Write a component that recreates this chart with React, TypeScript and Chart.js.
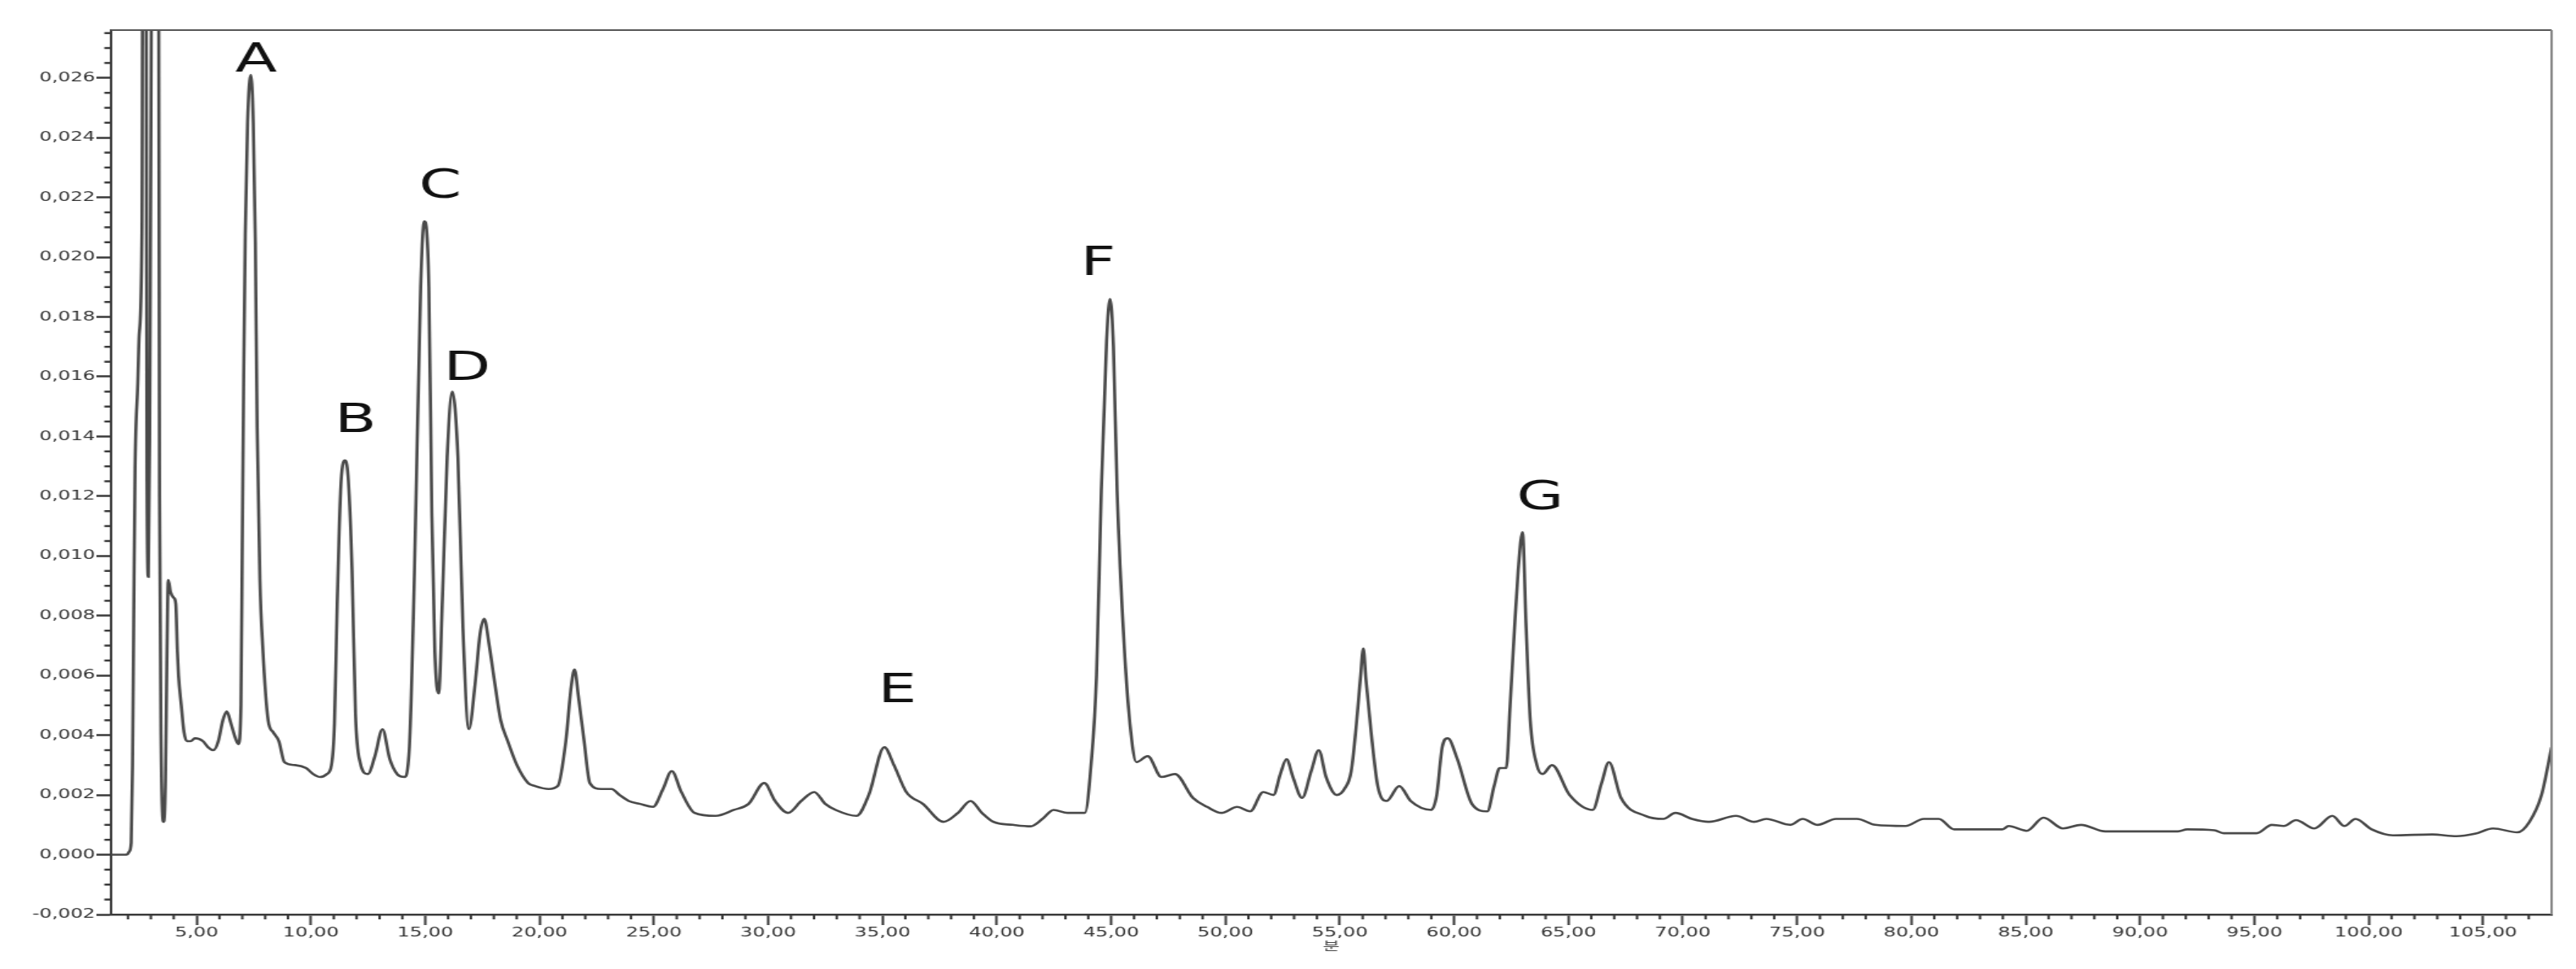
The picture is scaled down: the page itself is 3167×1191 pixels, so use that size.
import { useEffect, useRef } from "react";
import { Chart, registerables } from "chart.js";

Chart.register(...registerables);

// ---- data (retention time in minutes, absorbance) ----
const timeMin: number[] = [
  1.26, 1.95, 2.05, 2.14, 2.2, 2.25, 2.31, 2.43, 2.49, 2.61,
  2.68, 2.76, 2.83, 2.89, 2.95, 3.03, 3.1, 3.3, 3.38, 3.45,
  3.56, 3.64, 3.7, 3.76, 3.86, 4.0, 4.09, 4.16, 4.21, 4.33,
  4.45, 4.57, 4.75, 4.93, 5.28, 5.5, 5.74, 5.95, 6.15, 6.32,
  6.5, 6.7, 6.83, 6.94, 7.0, 7.06, 7.13, 7.23, 7.37, 7.48,
  7.57, 7.65, 7.77, 7.89, 8.13, 8.35, 8.6, 8.84, 9.31, 9.79,
  10.1, 10.4, 10.7, 10.9, 11.03, 11.15, 11.32, 11.5, 11.64, 11.8,
  11.95, 12.15, 12.49, 12.8, 13.13, 13.45, 13.77, 14.08, 14.3, 14.53,
  14.8, 14.96, 15.16, 15.29, 15.42, 15.59, 15.75, 15.96, 16.18, 16.43,
  16.65, 16.91, 17.18, 17.4, 17.58, 17.8, 18.05, 18.3, 18.61, 19.01,
  19.5, 19.8, 20.4, 20.8, 21.15, 21.38, 21.53, 21.7, 21.95, 22.2,
  22.7, 23.15, 23.5, 23.9, 24.4, 24.96, 25.4, 25.78, 26.2, 26.78,
  27.7, 28.5, 29.14, 29.83, 30.3, 30.87, 31.45, 32.01, 32.5, 32.95,
  33.86, 34.4, 35.08, 35.5, 36.04, 36.77, 37.67, 38.3, 38.85, 39.35,
  39.85, 40.7, 41.48, 42.0, 42.48, 43.1, 43.85, 44.12, 44.36, 44.57,
  44.8, 44.95, 45.1, 45.26, 45.57, 45.86, 46.11, 46.6, 47.2, 47.79,
  48.58, 49.2, 49.83, 50.51, 51.08, 51.65, 52.1, 52.4, 52.67, 52.95,
  53.35, 53.75, 54.08, 54.4, 54.87, 55.2, 55.5, 55.73, 55.9, 56.03,
  56.14, 56.37, 56.66, 57.05, 57.6, 58.1, 59.0, 59.24, 59.48, 59.72,
  60.14, 60.78, 61.45, 61.75, 61.99, 62.28, 62.45, 62.62, 62.8, 62.99,
  63.15, 63.33, 63.62, 63.87, 64.28, 65.05, 66.06, 66.45, 66.77, 67.3,
  68.37, 69.15, 69.68, 70.4, 71.14, 72.33, 73.12, 73.65, 74.71, 75.24,
  75.9, 76.7, 77.62, 78.42, 79.74, 80.54, 81.2, 81.86, 83.98, 84.25,
  85.04, 85.78, 86.63, 87.42, 88.48, 91.66, 92.06, 93.25, 93.65, 95.1,
  95.76, 96.29, 96.82, 97.62, 98.41, 98.94, 99.42, 100.13, 101.06, 102.78,
  103.84, 104.64, 105.44, 106.5, 107.03, 107.56, 108.0,
];

const absorbance: number[] = [
  0, 0, 0.0001, 0.0004, 0.003, 0.0078, 0.0129, 0.0158, 0.0174, 0.0209,
  0.045, 0.045, 0.0125, 0.0093, 0.014, 0.03, 0.045, 0.045, 0.012, 0.0035,
  0.0011, 0.0025, 0.0065, 0.0092, 0.0088, 0.0086, 0.0084, 0.0068, 0.006, 0.005,
  0.0041, 0.0038, 0.0038, 0.0039, 0.0038, 0.0036, 0.0035, 0.0038, 0.0045, 0.0048,
  0.0044, 0.0039, 0.0037, 0.005, 0.0105, 0.016, 0.0208, 0.0245, 0.0261, 0.0245,
  0.0205, 0.0143, 0.0092, 0.007, 0.0045, 0.0041, 0.0038, 0.0031, 0.003, 0.0029,
  0.0027, 0.0026, 0.0027, 0.003, 0.0044, 0.0084, 0.0125, 0.0132, 0.0125, 0.0095,
  0.0047, 0.0031, 0.0027, 0.0033, 0.0042, 0.0032, 0.0027, 0.0026, 0.0035, 0.0095,
  0.019, 0.0212, 0.019, 0.0114, 0.0068, 0.0054, 0.0085, 0.0133, 0.0155, 0.0133,
  0.0076, 0.0042, 0.0057, 0.0074, 0.0079, 0.007, 0.0057, 0.0045, 0.0038, 0.003,
  0.0024, 0.0023, 0.0022, 0.0023, 0.0038, 0.0056, 0.0062, 0.0053, 0.0038, 0.0024,
  0.0022, 0.0022, 0.002, 0.0018, 0.0017, 0.0016, 0.0022, 0.0028, 0.0021, 0.0014,
  0.0013, 0.0015, 0.0017, 0.0024, 0.0018, 0.0014, 0.0018, 0.0021, 0.0017, 0.0015,
  0.0013, 0.002, 0.0036, 0.003, 0.0021, 0.0017, 0.0011, 0.0014, 0.0018, 0.0014,
  0.0011, 0.001, 0.00095, 0.0012, 0.0015, 0.0014, 0.0014, 0.003, 0.006, 0.0122,
  0.0172, 0.0186, 0.017, 0.0122, 0.007, 0.0041, 0.0031, 0.0033, 0.0026, 0.0027,
  0.0019, 0.0016, 0.0014, 0.0016, 0.00145, 0.0021, 0.002, 0.0027, 0.0032, 0.0026,
  0.0019, 0.0028, 0.0035, 0.0026, 0.002, 0.0022, 0.0028, 0.0044, 0.0059, 0.0069,
  0.0059, 0.0041, 0.0023, 0.0018, 0.0023, 0.0018, 0.0015, 0.002, 0.0036, 0.0039,
  0.0032, 0.0017, 0.00145, 0.0023, 0.0029, 0.0029, 0.005, 0.0073, 0.0095, 0.0108,
  0.0076, 0.0045, 0.003, 0.0027, 0.003, 0.002, 0.0015, 0.0024, 0.0031, 0.0019,
  0.0013, 0.0012, 0.0014, 0.0012, 0.0011, 0.0013, 0.0011, 0.0012, 0.001, 0.0012,
  0.001, 0.0012, 0.0012, 0.001, 0.00096, 0.0012, 0.0012, 0.00085, 0.00085, 0.00096,
  0.0008, 0.00124, 0.00088, 0.001, 0.00078, 0.00078, 0.00085, 0.00082, 0.00072, 0.00072,
  0.001, 0.00096, 0.00116, 0.00088, 0.0013, 0.00096, 0.0012, 0.00085, 0.00065, 0.00068,
  0.00062, 0.0007, 0.00088, 0.00075, 0.0011, 0.002, 0.0036,
];

const xTickValues: number[] = [5, 10, 15, 20, 25, 30, 35, 40, 45, 50, 55, 60, 65, 70, 75, 80, 85, 90, 95, 100, 105];
const yTickValues: number[] = [
  -0.002, 0, 0.002, 0.004, 0.006, 0.008, 0.01, 0.012, 0.014, 0.016, 0.018, 0.02, 0.022, 0.024, 0.026,
];

const peakLabels: string[] = ["A", "B", "C", "D", "E", "F", "G"];
const peakLabelTimes: number[] = [7.6, 11.95, 15.65, 16.83, 35.65, 44.43, 63.76];
const peakLabelValues: number[] = [0.0262, 0.01415, 0.022, 0.0159, 0.0051, 0.0194, 0.01156];

const xAxisTitle = "분";

const X_MIN = 1.26;
const X_MAX = 108;
const Y_MIN = -0.002;
const Y_MAX = 0.0276;

const FULL_W = 3167;
const FULL_H = 1191;
const STRETCH = 1.5;
const CANVAS_W = Math.round(FULL_W / STRETCH);

const fmt = (v: number, d: number) => Number(v).toFixed(d).replace(".", ",");

const decorPlugin = {
  id: "decor",
  afterDraw(chart: any) {
    const { ctx, chartArea: a, scales } = chart;
    const xs = scales.x;
    const ys = scales.y;
    const seg = (x1: number, y1: number, x2: number, y2: number) => {
      ctx.beginPath();
      ctx.moveTo(x1, y1);
      ctx.lineTo(x2, y2);
      ctx.stroke();
    };
    ctx.save();
    // frame: top and right
    ctx.lineWidth = 2;
    ctx.strokeStyle = "#555";
    seg(a.left, a.top, a.right, a.top);
    ctx.strokeStyle = "#8a8a8a";
    seg(a.right, a.top, a.right, a.bottom);
    // minor ticks
    ctx.strokeStyle = "#3a3a3a";
    ctx.lineWidth = 2;
    for (let t = 2; t < X_MAX; t += 1) {
      if (t % 5 === 0) continue;
      const px = xs.getPixelForValue(t);
      seg(px, a.bottom, px, a.bottom + 6);
    }
    ctx.lineWidth = 2.5;
    for (let i = -4; i <= 60; i++) {
      if (i % 4 === 0) continue;
      const v = i * 0.0005;
      if (v > Y_MAX) break;
      const py = ys.getPixelForValue(v);
      seg(a.left - 5.5, py, a.left, py);
    }
    // peak labels
    ctx.fillStyle = "#111";
    ctx.font = "50px 'DejaVu Sans'";
    ctx.textAlign = "center";
    ctx.textBaseline = "alphabetic";
    peakLabels.forEach((s, i) => {
      ctx.fillText(s, xs.getPixelForValue(peakLabelTimes[i]), ys.getPixelForValue(peakLabelValues[i]));
    });
    ctx.restore();
  },
};

export default function App() {
  const ref = useRef<HTMLCanvasElement | null>(null);

  useEffect(() => {
    document.body.style.margin = "0";
    const canvas = ref.current;
    if (!canvas) return;
    const tickFont = { family: "'DejaVu Sans', sans-serif", size: 16 };
    const n = Math.min(timeMin.length, absorbance.length);
    const chart = new Chart(canvas, {
      type: "line",
      data: {
        datasets: [
          {
            data: timeMin.slice(0, n).map((t, i) => ({ x: t, y: absorbance[i] })),
            borderColor: "#4a4a4a",
            borderWidth: 2.6,
            pointRadius: 0,
            fill: false,
            cubicInterpolationMode: "monotone",
          },
        ],
      },
      options: {
        responsive: false,
        animation: false,
        devicePixelRatio: 1,
        events: [],
        layout: { padding: { top: 37, right: 20, left: 0, bottom: 0 } },
        plugins: { legend: { display: false }, tooltip: { enabled: false } },
        scales: {
          x: {
            type: "linear",
            min: X_MIN,
            max: X_MAX,
            afterBuildTicks: (s: any) => {
              s.ticks = xTickValues.map((v) => ({ value: v }));
            },
            afterFit: (s: any) => {
              s.height = 67;
            },
            ticks: {
              callback: (v: any) => fmt(v, 2),
              font: tickFont,
              color: "#333",
              padding: 0,
              maxRotation: 0,
              autoSkip: false,
            },
            grid: {
              display: true,
              drawOnChartArea: false,
              drawTicks: true,
              tickLength: 13,
              tickWidth: 2,
              tickColor: "#3a3a3a",
            },
            border: { display: true, color: "#3a3a3a", width: 2.5 },
            title: {
              display: true,
              text: xAxisTitle,
              font: { family: "'Noto Sans CJK KR', sans-serif", size: 15 },
              color: "#444",
              padding: { top: 0, bottom: 20 },
            },
          },
          y: {
            type: "linear",
            min: Y_MIN,
            max: Y_MAX,
            afterBuildTicks: (s: any) => {
              s.ticks = yTickValues.map((v) => ({ value: v }));
            },
            afterFit: (s: any) => {
              s.width = 91;
            },
            ticks: {
              callback: (v: any) => fmt(v, 3),
              font: tickFont,
              color: "#333",
              padding: 1,
            },
            grid: {
              display: true,
              drawOnChartArea: false,
              drawTicks: true,
              tickLength: 12,
              tickWidth: 2.5,
              tickColor: "#3a3a3a",
            },
            border: { display: true, color: "#3a3a3a", width: 2 },
          },
        },
      },
      plugins: [decorPlugin],
    } as any);
    return () => chart.destroy();
  }, []);

  return (
    <div
      style={{
        position: "absolute",
        left: 0,
        top: 0,
        width: FULL_W,
        height: FULL_H,
        overflow: "hidden",
        background: "#fff",
      }}
    >
      <canvas
        ref={ref}
        width={CANVAS_W}
        height={FULL_H}
        style={{ width: FULL_W + "px", height: FULL_H + "px", display: "block" }}
      />
    </div>
  );
}
